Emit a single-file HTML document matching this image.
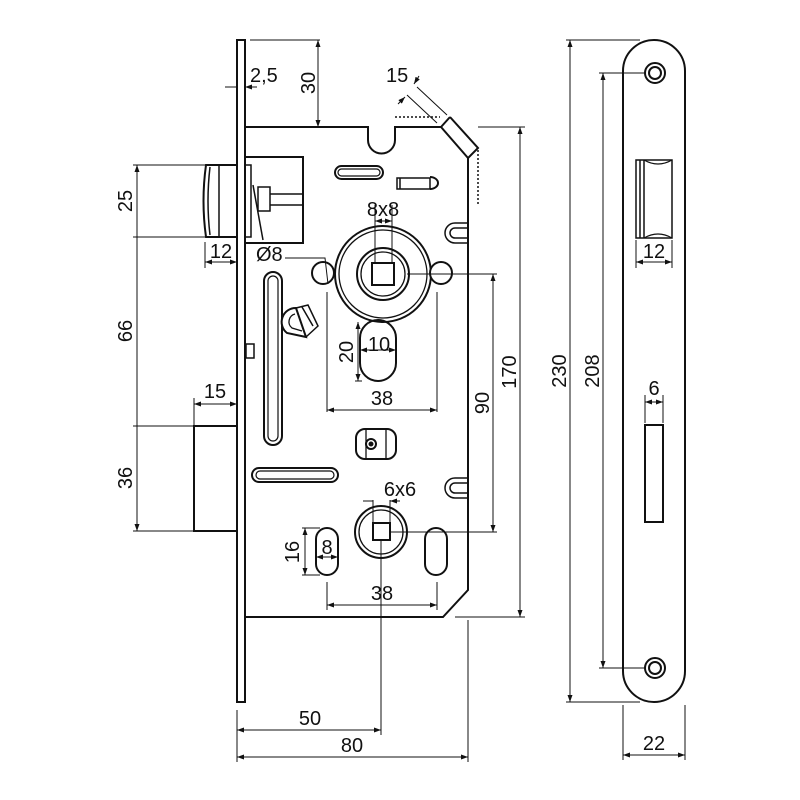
<!DOCTYPE html>
<html><head><meta charset="utf-8"><style>
html,body{margin:0;padding:0;background:#fff}
svg{display:block}
text{font-family:"Liberation Sans",sans-serif;font-size:20px;fill:#111}
</style></head><body>
<svg width="800" height="800" viewBox="0 0 800 800" xmlns="http://www.w3.org/2000/svg">
<defs>
<marker id="a" markerWidth="8" markerHeight="6" refX="7" refY="3" orient="auto-start-reverse" markerUnits="userSpaceOnUse"><path d="M0,0.5 L7,3 L0,5.5 z" fill="#111"/></marker>
</defs>
<g fill="none" stroke="#111" stroke-width="2">
<rect x="237" y="40" width="8" height="662" fill="#fff"/>
<path d="M245,127 H368 V140 A13.5,13.5 0 0 0 395,140 V127 H441 M450,117 L478,148 L468,158 V590 L443,617 H245"/>
<path d="M441,127 L450,117 M441,127 L468,158"/>
<path d="M395,117 H440" stroke-dasharray="2,2" stroke-width="1.5"/>
<path d="M478,150 V205" stroke-dasharray="2,2" stroke-width="1.5"/>
<path d="M206,165 H237 V237 H206 Q201,201 206,165 Z"/>
<path d="M210,167 Q206,201 210,235 M219,165 V237" stroke-width="1.5"/>
<rect x="245" y="157" width="58" height="86"/>
<rect x="245" y="165" width="6" height="72" stroke-width="1.5"/>
<path d="M253,185 L263,240" stroke-width="1.5"/>
<rect x="258" y="187" width="12" height="24" stroke-width="1.5"/>
<path d="M270,194 H303 M270,205 H303" stroke-width="1.5"/>
<rect x="194" y="426" width="43" height="105"/>
<rect x="335" y="166" width="48" height="13" rx="6.5"/>
<rect x="338" y="169" width="42" height="7" rx="3.5" stroke-width="1.2"/>
<path d="M397,178 H430 V189 H397 Z M400,178 V189" stroke-width="1.5"/>
<path d="M430,177 A8,6 0 0 1 430,189" />
<path d="M467,223 H455 A10,10 0 0 0 455,243 H467 M467,228 H455 A5,5 0 0 0 455,238 H467" stroke-width="1.5"/>
<path d="M467,478 H455 A10,10 0 0 0 455,498 H467 M467,483 H455 A5,5 0 0 0 455,493 H467" stroke-width="1.5"/>
<circle cx="383" cy="274" r="48"/>
<circle cx="383" cy="274" r="44" stroke-width="1.3"/>
<circle cx="383" cy="274" r="26"/>
<circle cx="383" cy="274" r="22" stroke-width="1.3"/>
<rect x="372" y="263" width="22" height="22"/>
<circle cx="323" cy="273" r="11" fill="#fff"/>
<circle cx="441" cy="273" r="11" fill="#fff"/>
<rect x="360" y="320" width="36" height="61" rx="18"/>
<rect x="264" y="272" width="18" height="173" rx="9"/>
<rect x="268" y="276" width="10" height="165" rx="5" stroke-width="1.2"/>
<path d="M296,308 A14,14 0 0 0 287,333 L306,337 Z" fill="#fff"/>
<path d="M295,314 A8,8 0 0 0 292,328 L302,331" stroke-width="1.3"/>
<path d="M296,308 L308,305 L318,326 L306,337 M302,307 L313,326" stroke-width="1.5"/>
<rect x="246" y="344" width="8" height="14" stroke-width="1.5"/>
<rect x="252" y="468" width="86" height="14" rx="7"/>
<rect x="256" y="471" width="78" height="8" rx="4" stroke-width="1.2"/>
<rect x="356" y="429" width="40" height="30" rx="9"/>
<path d="M366,429 V459 M386,429 V459" stroke-width="1.3"/>
<circle cx="371" cy="444" r="5"/><circle cx="371" cy="444" r="1.5" fill="#111"/>
<circle cx="381" cy="532" r="26"/>
<circle cx="381" cy="532" r="22" stroke-width="1.3"/>
<rect x="373" y="523" width="17" height="17"/>
<rect x="316" y="528" width="22" height="47" rx="11"/>
<rect x="425" y="528" width="22" height="47" rx="11"/>
<rect x="623" y="40" width="62" height="662" rx="31"/>
<circle cx="655" cy="73" r="10"/><circle cx="655" cy="73" r="6"/>
<circle cx="655" cy="668" r="10"/><circle cx="655" cy="668" r="6"/>
<path d="M636,160 H672 V238 H636 Z M640,160 V238 M644,160 V238" stroke-width="1.5"/>
<path d="M644,160 Q658,168 672,160 M644,238 Q658,230 672,238" stroke-width="1.2"/>
<rect x="645" y="425" width="18" height="97"/>
</g>
<g fill="none" stroke="#111" stroke-width="1">
<path d="M205,165 H133 M205,237 H133 M194,426 H133 M194,531 H133"/>
<path d="M137,165 V237 M137,237 V426 M137,426 V531" marker-start="url(#a)" marker-end="url(#a)"/>
<path d="M205,242 V268 M237,242 V268"/>
<path d="M205,262 H237" marker-start="url(#a)" marker-end="url(#a)"/>
<path d="M194,398 V426"/>
<path d="M194,404 H237" marker-start="url(#a)" marker-end="url(#a)"/>
<path d="M225,87 H237 M257,87 H245" marker-end="url(#a)"/>
<path d="M250,40 H320"/>
<path d="M318,40 V127" marker-start="url(#a)" marker-end="url(#a)"/>
<path d="M285,258 H325 L328,284"/>
<path d="M375,205 V263 M392,205 V263"/>
<path d="M375,221 H392" marker-start="url(#a)" marker-end="url(#a)"/>
<path d="M327,292 V412 M437,292 V412"/>
<path d="M327,410 H437" marker-start="url(#a)" marker-end="url(#a)"/>
<path d="M358,322 V381" marker-start="url(#a)" marker-end="url(#a)"/>
<path d="M355,381 H362"/>
<path d="M360,350 H396" marker-start="url(#a)" marker-end="url(#a)"/>
<path d="M407,274 H497 M391,532 H497"/>
<path d="M493,274 V532" marker-start="url(#a)" marker-end="url(#a)"/>
<path d="M478,127 H525 M455,617 H525"/>
<path d="M520,127 V617" marker-start="url(#a)" marker-end="url(#a)"/>
<path d="M373,500 V524 M390,500 V524"/>
<path d="M363,501 H373 M400,501 H390" marker-end="url(#a)"/>
<path d="M302,528 H320 M302,575 H320"/>
<path d="M305,528 V575" marker-start="url(#a)" marker-end="url(#a)"/>
<path d="M316,557 H338" marker-start="url(#a)" marker-end="url(#a)"/>
<path d="M327,582 V610 M437,582 V610"/>
<path d="M327,605 H437" marker-start="url(#a)" marker-end="url(#a)"/>
<path d="M381,540 V735"/>
<path d="M237,710 V762 M468,620 V762"/>
<path d="M237,730 H381" marker-start="url(#a)" marker-end="url(#a)"/>
<path d="M237,757 H468" marker-start="url(#a)" marker-end="url(#a)"/>
<path d="M417,87 L447,115 M407,95 L437,123"/>
<path d="M414,84 L419,76" marker-start="url(#a)"/>
<path d="M398,104 L405,97" marker-end="url(#a)"/>
<path d="M566,40 H640 M566,702 H640"/>
<path d="M570,40 V702" marker-start="url(#a)" marker-end="url(#a)"/>
<path d="M599,73 H645 M599,668 H645"/>
<path d="M603,73 V668" marker-start="url(#a)" marker-end="url(#a)"/>
<path d="M636,240 V268 M672,240 V268"/>
<path d="M636,262 H672" marker-start="url(#a)" marker-end="url(#a)"/>
<path d="M645,395 V423 M663,395 V423"/>
<path d="M645,402 H663" marker-start="url(#a)" marker-end="url(#a)"/>
<path d="M623,705 V760 M685,705 V760"/>
<path d="M623,755 H685" marker-start="url(#a)" marker-end="url(#a)"/>
</g>
<text x="250" y="82">2,5</text>
<text transform="translate(315,83) rotate(-90)" text-anchor="middle">30</text>
<text x="386" y="82">15</text>
<text transform="translate(132,201) rotate(-90)" text-anchor="middle">25</text>
<text transform="translate(132,331) rotate(-90)" text-anchor="middle">66</text>
<text transform="translate(132,478) rotate(-90)" text-anchor="middle">36</text>
<text x="221" y="258" text-anchor="middle">12</text>
<text x="215" y="398" text-anchor="middle">15</text>
<text x="256" y="261">Ø8</text>
<text x="383" y="216" text-anchor="middle">8x8</text>
<text x="379" y="351" text-anchor="middle">10</text>
<text transform="translate(353,352) rotate(-90)" text-anchor="middle">20</text>
<text x="382" y="405" text-anchor="middle">38</text>
<text transform="translate(489,403) rotate(-90)" text-anchor="middle">90</text>
<text transform="translate(516,372) rotate(-90)" text-anchor="middle">170</text>
<text x="400" y="496" text-anchor="middle">6x6</text>
<text transform="translate(299,552) rotate(-90)" text-anchor="middle">16</text>
<text x="327" y="554" text-anchor="middle">8</text>
<text x="382" y="600" text-anchor="middle">38</text>
<text x="310" y="725" text-anchor="middle">50</text>
<text x="352" y="752" text-anchor="middle">80</text>
<text transform="translate(566,371) rotate(-90)" text-anchor="middle">230</text>
<text transform="translate(599,371) rotate(-90)" text-anchor="middle">208</text>
<text x="654" y="258" text-anchor="middle">12</text>
<text x="654" y="395" text-anchor="middle">6</text>
<text x="654" y="750" text-anchor="middle">22</text>
</svg>
</body></html>
